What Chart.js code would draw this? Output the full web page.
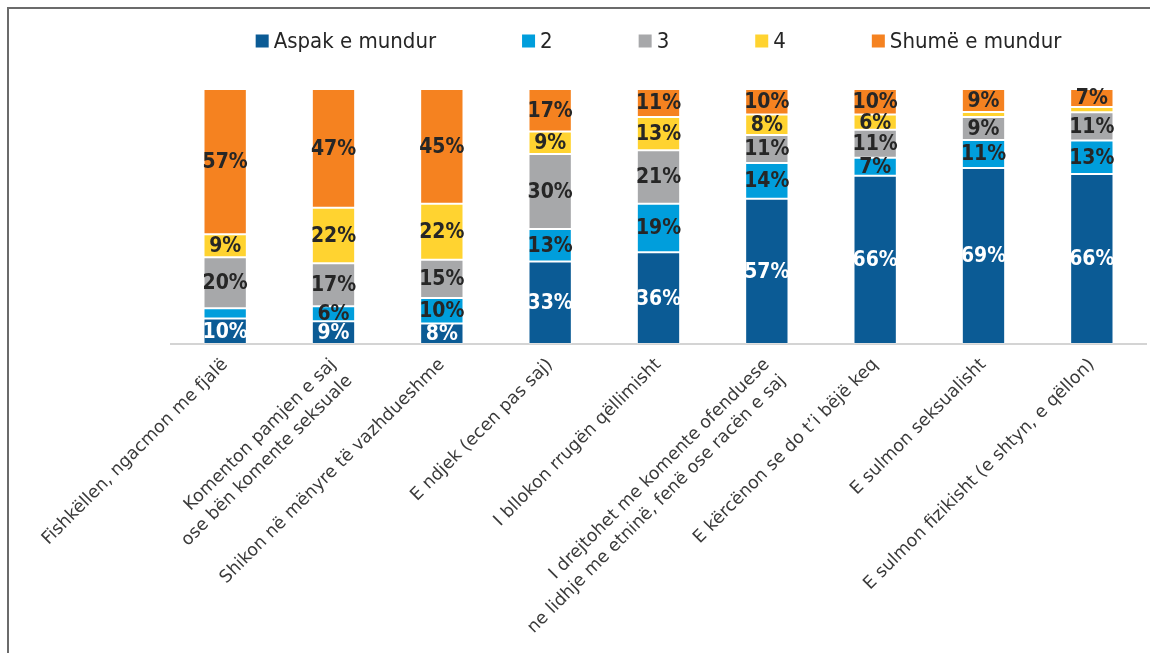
<!DOCTYPE html>
<html><head><meta charset="utf-8">
<script src="https://cdn.jsdelivr.net/npm/chart.js@4.4.1/dist/chart.umd.min.js"></script>
<style>
html,body{margin:0;padding:0;background:#fff;}
#wrap{position:relative;width:1150px;height:653px;overflow:hidden;}
#frame{position:absolute;left:7px;top:7px;width:3000px;height:3000px;border-left:2px solid #6b6b6b;border-top:2px solid #6b6b6b;pointer-events:none;box-sizing:border-box;}
</style></head><body>
<div id="wrap"><canvas id="c" width="1150" height="653"></canvas><div id="frame"></div></div>
<script>
const categories = [
  "Fishkëllen, ngacmon me fjalë",
  ["Komenton pamjen e saj", "ose bën komente seksuale"],
  "Shikon në mënyre të vazhdueshme",
  "E ndjek (ecen pas saj)",
  "I bllokon rrugën qëllimisht",
  ["I drejtohet me komente ofenduese", "ne lidhje me etninë, fenë ose racën e saj"],
  "E kërcënon se do t’i bëjë keq",
  "E sulmon seksualisht",
  "E sulmon fizikisht (e shtyn, e qëllon)"
];
const seriesNames = ["Aspak e mundur", "2", "3", "4", "Shumë e mundur"];
const aspak = [10, 9, 8, 33, 36, 57, 66, 69, 66];
const s2    = [4, 6, 10, 13, 19, 14, 7, 11, 13];
const s3    = [20, 17, 15, 30, 21, 11, 11, 9, 11];
const s4    = [9, 22, 22, 9, 13, 8, 6, 2, 2];
const shume = [57, 47, 45, 17, 11, 10, 10, 9, 7];
const seriesColors = ["#0B5B95", "#009EDC", "#A7A8AA", "#FFD330", "#F58220"];
const labelColors  = ["#FFFFFF", "#262626", "#262626", "#262626", "#262626"];

const series = [aspak, s2, s3, s4, shume];
const totals = categories.map((_, i) => series.reduce((s, arr) => s + arr[i], 0));

const datasets = series.map((arr, k) => ({
  label: seriesNames[k],
  data: arr.map((v, i) => v / totals[i] * 100),
  raw: arr,
  backgroundColor: seriesColors[k],
  borderColor: "rgba(255,255,255,0.25)",
  borderWidth: 1,
  borderSkipped: false,
  categoryPercentage: 1,
  barPercentage: 0.4
}));

const valueLabels = {
  id: "valueLabels",
  afterDatasetsDraw(chart) {
    const ctx = chart.ctx;
    ctx.save();
    ctx.font = "bold 21px 'DejaVu Sans Condensed', 'DejaVu Sans'";
    ctx.textAlign = "center";
    ctx.textBaseline = "middle";
    chart.data.datasets.forEach((ds, k) => {
      const meta = chart.getDatasetMeta(k);
      meta.data.forEach((bar, i) => {
        const v = ds.raw[i];
        if (v < 5) return;
        ctx.fillStyle = labelColors[k];
        ctx.fillText(v + "%", bar.x, (bar.y + bar.base) / 2 + 1);
      });
    });
    ctx.restore();
  }
};

const customLegend = {
  id: "customLegend",
  afterDraw(chart) {
    const ctx = chart.ctx;
    ctx.save();
    ctx.font = "22px 'DejaVu Sans Condensed', 'DejaVu Sans'";
    ctx.textBaseline = "middle";
    ctx.textAlign = "left";
    const box = 13, gapText = 5, gapItem = 86;
    const items = chart.data.datasets.map(ds => ({ text: ds.label, color: ds.backgroundColor, w: ctx.measureText(ds.label).width }));
    let total = items.reduce((s, it) => s + box + gapText + it.w, 0) + gapItem * (items.length - 1);
    const ca = chart.chartArea;
    let x = (ca.left + ca.right) / 2 - total / 2;
    const cy = 41;
    items.forEach(it => {
      ctx.fillStyle = it.color;
      ctx.fillRect(x, cy - box / 2, box, box);
      ctx.fillStyle = "#262626";
      ctx.fillText(it.text, x + box + gapText, cy + 1);
      x += box + gapText + it.w + gapItem;
    });
    ctx.restore();
  }
};

new Chart(document.getElementById("c"), {
  type: "bar",
  data: { labels: categories, datasets },
  options: {
    responsive: false,
    animation: false,
    layout: { padding: { left: 171, right: 4, top: 89, bottom: 0 } },
    plugins: { legend: { display: false }, tooltip: { enabled: false } },
    scales: {
      x: {
        stacked: true,
        grid: { display: false, drawTicks: false },
        border: { display: true, color: "#D4D4D4", width: 2 },
        ticks: {
          autoSkip: false,
          maxRotation: 45,
          minRotation: 45,
          padding: 10,
          color: "#3A3A3A",
          font: { family: "'DejaVu Sans'", size: 17.5, lineHeight: 1.3 }
        },
        afterFit(scale) { scale.height = 309; }
      },
      y: {
        stacked: true,
        display: false,
        min: 0,
        max: 100
      }
    }
  },
  plugins: [valueLabels, customLegend]
});
</script>
</body></html>
